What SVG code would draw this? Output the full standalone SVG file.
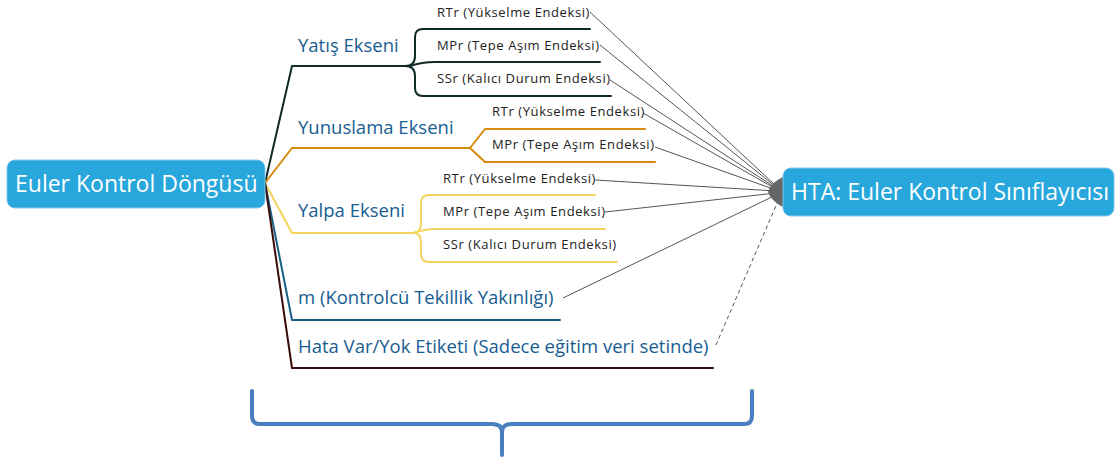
<svg xmlns="http://www.w3.org/2000/svg" width="1117" height="459" viewBox="0 0 1117 459">
  <style>
    .box { fill: #28a7dd; stroke: #7cc8ea; stroke-width: 1; }
    .boxtext { font-family: "Open Sans", "Noto Sans", sans-serif; font-size: 23px; fill: #ffffff; }
    .topic { font-family: "Open Sans", "Noto Sans", sans-serif; font-size: 18.5px; fill: #175d92; }
    .sub { font-family: "Open Sans", "Noto Sans", sans-serif; font-size: 13px; letter-spacing: 0.6px; fill: #222222; }
    .branch { fill: none; stroke-width: 2; stroke-linejoin: round; stroke-linecap: round; }
    .link { fill: none; stroke: #555555; stroke-width: 1; }
  </style>

  <!-- branch and relation lines -->
  <g id="connectors">
    <!-- Yatış -->
    <path class="branch" stroke="#0f2b28" d="M265,183 L292,66 L405,66"/>
    <path class="branch" stroke="#0f2b28" d="M405,66 Q415,66 415,56 L415,37 Q415,29 423,29 L590,29"/>
    <path class="branch" stroke="#0f2b28" d="M405,66 Q415,66 415,76 L415,88 Q415,96 423,96 L611,96"/>
    <path class="branch" stroke="#0f2b28" d="M410,66 Q422,62 435,62 L600,62"/>
    <!-- Yunuslama -->
    <path class="branch" stroke="#d88a0c" d="M265,183 L292,148 L470,148"/>
    <path class="branch" stroke="#d88a0c" d="M470,148 L485,129 L645,129"/>
    <path class="branch" stroke="#d88a0c" d="M470,148 L485,162 L655,162"/>
    <!-- Yalpa -->
    <path class="branch" stroke="#f3d45e" d="M265,183 L292,233 L413,233"/>
    <path class="branch" stroke="#f3d45e" d="M413,233 Q421,233 421,223 L421,203 Q421,195 429,195 L595,195"/>
    <path class="branch" stroke="#f3d45e" d="M413,233 Q421,233 421,243 L421,254 Q421,262 429,262 L617,262"/>
    <path class="branch" stroke="#f3d45e" d="M413,233 Q425,229 437,229 L605,229"/>
    <!-- m -->
    <path class="branch" stroke="#1a5f84" d="M265,183 L292,320 L560,320"/>
    <!-- Hata -->
    <path class="branch" stroke="#3b0b0b" d="M265,183 L292,368 L713,368"/>

    <!-- relations into the classifier -->
    <path class="link" d="M590,12 L776,186"/>
    <path class="link" d="M600,45 L776,187"/>
    <path class="link" d="M610,80 L776,188"/>
    <path class="link" d="M643,113 L776,189"/>
    <path class="link" d="M655,147 L776,190"/>
    <path class="link" d="M595,180 L776,191"/>
    <path class="link" d="M605,212 L776,193"/>
    <path class="link" d="M563,298 L776,195"/>
    <path class="link" stroke-dasharray="4,3" d="M716,345 L778,201"/>
    <path fill="#666666" d="M783,177 L783,207 Q771,201 768,192 Q770,183 783,177 Z"/>
  </g>

  <g id="root">
    <rect class="box" x="7" y="160" width="258" height="48" rx="8"/>
    <text class="boxtext" x="15" y="192">Euler Kontrol Döngüsü</text>
  </g>

  <g id="classifier">
    <rect class="box" x="783" y="168" width="331" height="48" rx="8"/>
    <text class="boxtext" x="791" y="200">HTA: Euler Kontrol Sınıflayıcısı</text>
  </g>

  <g id="yatis">
    <text class="topic" x="298" y="52">Yatış Ekseni</text>
    <text class="sub" x="437" y="17">RTr (Yükselme Endeksi)</text>
    <text class="sub" x="437" y="50">MPr (Tepe Aşım Endeksi)</text>
    <text class="sub" x="437" y="83">SSr (Kalıcı Durum Endeksi)</text>
  </g>

  <g id="yunuslama">
    <text class="topic" x="298" y="134">Yunuslama Ekseni</text>
    <text class="sub" x="492" y="116">RTr (Yükselme Endeksi)</text>
    <text class="sub" x="492" y="149">MPr (Tepe Aşım Endeksi)</text>
  </g>

  <g id="yalpa">
    <text class="topic" x="298" y="217">Yalpa Ekseni</text>
    <text class="sub" x="443" y="183">RTr (Yükselme Endeksi)</text>
    <text class="sub" x="443" y="216">MPr (Tepe Aşım Endeksi)</text>
    <text class="sub" x="443" y="249">SSr (Kalıcı Durum Endeksi)</text>
  </g>

  <g id="tekillik">
    <text class="topic" x="298" y="304">m (Kontrolcü Tekillik Yakınlığı)</text>
  </g>

  <g id="etiket">
    <text class="topic" x="298" y="353">Hata Var/Yok Etiketi (Sadece eğitim veri setinde)</text>
  </g>

  <!-- grouping brace under the inputs -->
  <g id="brace">
    <path fill="none" stroke="#4a7fbf" stroke-width="4" stroke-linecap="round" d="M252,391 L252,416 Q252,424 260,424 L492,424 Q502,424 502,432 Q502,424 512,424 L744,424 Q752,424 752,416 L752,391 M502,430 L502,455"/>
  </g>
</svg>
